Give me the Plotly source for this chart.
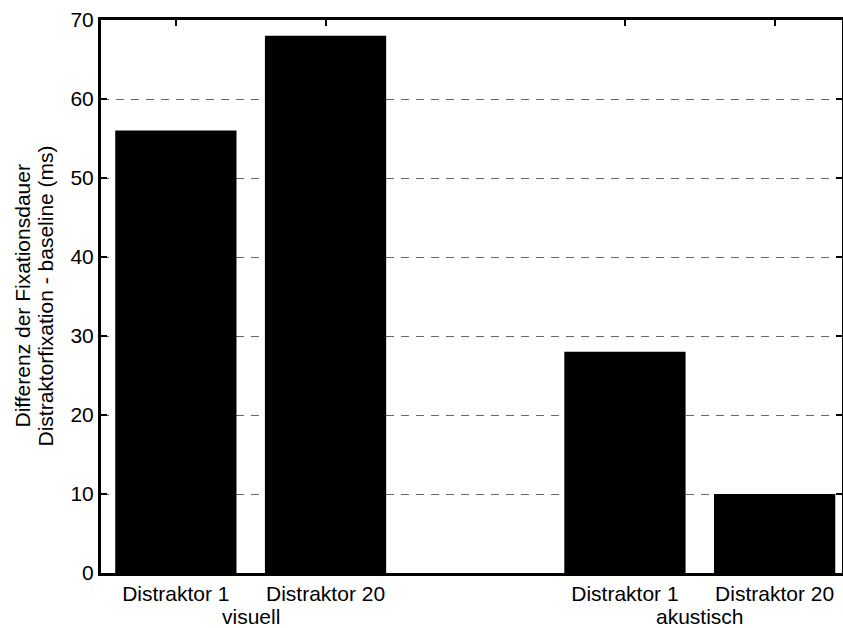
import plotly.graph_objects as go

# bar positions (gap between the two groups) and values
positions = [1, 2, 4, 5]
conditions = ["Distraktor 1", "Distraktor 20", "Distraktor 1", "Distraktor 20"]
values = [56, 68, 28, 10]
group_pos = [1.5, 4.5]
groups = ["visuell", "akustisch"]
y_ticks = [0, 10, 20, 30, 40, 50, 60, 70]
y_title = ["Differenz der Fixationsdauer", "Distraktorfixation - baseline (ms)"]

font = dict(family="Liberation Sans, Arial, sans-serif", size=21, color="black")

fig = go.Figure()
fig.add_trace(go.Bar(
    x=positions, y=values, width=0.81,
    marker=dict(color="black", line=dict(width=0)),
    showlegend=False,
))

# group labels under the category ticks
for gx, gname in zip(group_pos, groups):
    fig.add_annotation(
        x=gx, y=0, xref="x", yref="paper", yanchor="top",
        yshift=-30, text=gname, showarrow=False, font=font,
    )

# y title as two tight rotated lines
for shift, line in zip([-79, -56], y_title):
    fig.add_annotation(
        x=0, y=0.5, xref="paper", yref="paper",
        xanchor="center", yanchor="middle", xshift=shift,
        textangle=-90, text=line, showarrow=False, font=font,
    )

fig.update_xaxes(
    range=[0.5, 5.45], automargin=False,
    tickvals=positions, ticktext=conditions,
    ticks="inside", ticklen=6, tickwidth=2, tickcolor="black",
    showline=True, linecolor="black", linewidth=3, mirror="ticks",
    showgrid=False, zeroline=False, tickfont=font,
)
fig.update_yaxes(
    range=[0, 70], automargin=False,
    tickvals=y_ticks,
    ticks="inside", ticklen=6, tickwidth=2, tickcolor="black",
    showline=True, linecolor="black", linewidth=3, mirror="ticks",
    showgrid=True, gridcolor="#666666", griddash="8px,7px", gridwidth=1,
    zeroline=False, tickfont=font,
)

fig.update_layout(
    width=843, height=628,
    margin=dict(l=101, r=1, t=20, b=55),
    plot_bgcolor="white", paper_bgcolor="white",
    font=font,
)

# drop the page's default body margin so the figure sits at the top-left corner
fig.write_html("out.html", config={"displayModeBar": False},
               post_script="document.body.style.margin='0';")
